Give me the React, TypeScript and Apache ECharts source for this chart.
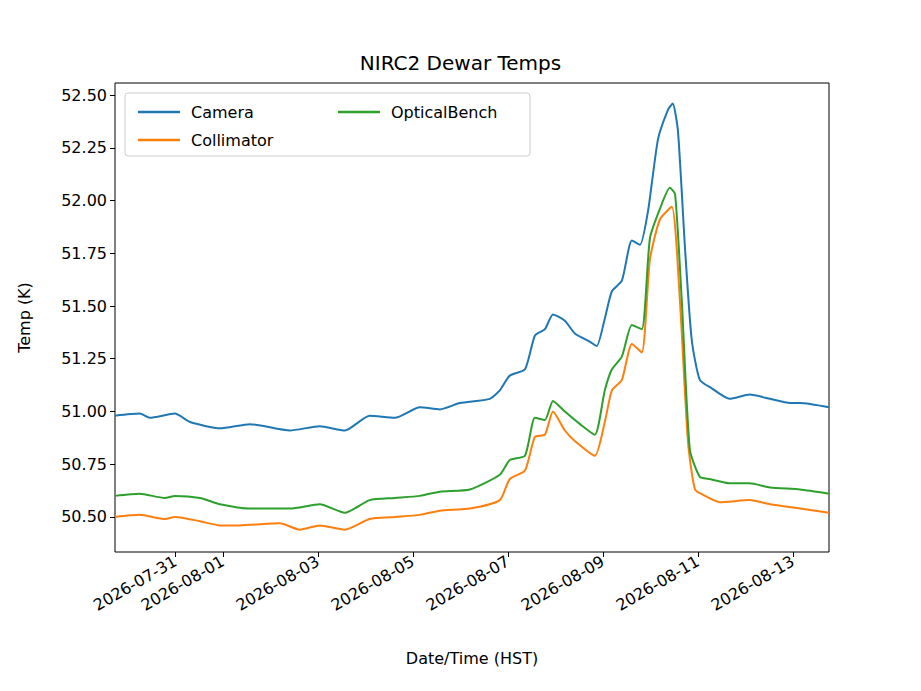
import React, { useEffect, useRef } from "react";
import * as echarts from "echarts";

// x = days since 2026-08-01 00:00 HST
const camera: [number, number][] = [[-2.27,50.98],[-1.75,50.99],[-1.54,50.97],[-1.01,50.99],[-0.69,50.95],[-0.06,50.92],[0.57,50.94],[1.41,50.91],[2.04,50.93],[2.57,50.91],[3.09,50.98],[3.62,50.97],[4.15,51.02],[4.57,51.01],[4.99,51.04],[5.62,51.06],[5.83,51.1],[6.04,51.17],[6.36,51.2],[6.57,51.36],[6.78,51.39],[6.95,51.46],[7.2,51.43],[7.41,51.37],[7.73,51.33],[7.87,51.31],[8.04,51.44],[8.19,51.57],[8.4,51.62],[8.61,51.81],[8.78,51.79],[8.95,51.95],[9.16,52.29],[9.37,52.43],[9.47,52.46],[9.58,52.33],[9.73,51.77],[9.87,51.34],[10.04,51.15],[10.29,51.11],[10.67,51.06],[11.09,51.08],[11.52,51.06],[11.94,51.04],[12.15,51.04],[12.76,51.02]];
const collimator: [number, number][] = [[-2.27,50.5],[-1.75,50.51],[-1.22,50.49],[-1.01,50.5],[-0.48,50.48],[-0.06,50.46],[0.36,50.46],[1.2,50.47],[1.62,50.44],[2.04,50.46],[2.57,50.44],[3.09,50.49],[3.62,50.5],[4.15,50.51],[4.57,50.53],[5.2,50.54],[5.83,50.58],[6.04,50.68],[6.36,50.72],[6.57,50.88],[6.78,50.89],[6.95,51.0],[7.2,50.91],[7.41,50.86],[7.83,50.79],[8.04,50.95],[8.19,51.1],[8.4,51.15],[8.61,51.32],[8.82,51.28],[8.99,51.72],[9.2,51.91],[9.45,51.97],[9.62,51.53],[9.79,50.86],[9.94,50.63],[10.15,50.6],[10.46,50.57],[11.09,50.58],[11.52,50.56],[12.15,50.54],[12.76,50.52]];
const opticalBench: [number, number][] = [[-2.27,50.6],[-1.75,50.61],[-1.22,50.59],[-1.01,50.6],[-0.48,50.59],[-0.06,50.56],[0.57,50.54],[1.41,50.54],[2.04,50.56],[2.57,50.52],[3.09,50.58],[3.62,50.59],[4.15,50.6],[4.57,50.62],[5.2,50.63],[5.83,50.7],[6.04,50.77],[6.36,50.79],[6.57,50.97],[6.78,50.96],[6.95,51.05],[7.2,51.0],[7.52,50.94],[7.83,50.89],[8.04,51.1],[8.19,51.2],[8.4,51.26],[8.61,51.41],[8.82,51.39],[8.99,51.82],[9.2,51.96],[9.41,52.06],[9.52,52.03],[9.66,51.53],[9.83,50.82],[10.04,50.69],[10.25,50.68],[10.67,50.66],[11.09,50.66],[11.52,50.64],[12.15,50.63],[12.76,50.61]];
const xTickDays = [-1, 0, 2, 4, 6, 8, 10, 12];
const xTickLabels = ["2026-07-31","2026-08-01","2026-08-03","2026-08-05","2026-08-07","2026-08-09","2026-08-11","2026-08-13"];
const yTicks = [50.5, 50.75, 51.0, 51.25, 51.5, 51.75, 52.0, 52.25, 52.5];

const FONT = "DejaVu Sans";

export default function App() {
  const ref = useRef<HTMLDivElement>(null);
  useEffect(() => {
    document.body.style.margin = "0";
    const chart = echarts.init(ref.current!, undefined, { renderer: "svg" });
    const mk = (name: string, data: [number, number][], color: string) => ({
      name, type: "line", data, showSymbol: false, smooth: 0.2,
      lineStyle: { color, width: 2 }, itemStyle: { color },
    });
    const legendText = { fontFamily: FONT, fontSize: 16, color: "#000", padding: [0, 0, 0, 6] };
    chart.setOption({
      animation: false,
      backgroundColor: "#fff",
      textStyle: { fontFamily: FONT },
      title: { text: "NIRC2 Dewar Temps", left: "center", top: 48, textStyle: { fontFamily: FONT, fontSize: 20, fontWeight: "normal", color: "#000" } },
      grid: { left: 115, right: 92, top: 83, bottom: 139, show: true, borderColor: "#000", borderWidth: 1 },
      xAxis: {
        type: "value", min: -2.27, max: 12.76,
        name: "Date/Time (HST)", nameLocation: "middle", nameGap: 98,
        nameTextStyle: { fontFamily: FONT, fontSize: 16, color: "#000" },
        axisLine: { show: false, onZero: false }, splitLine: { show: false },
        axisTick: { show: true, length: 5, lineStyle: { color: "#000" }, customValues: xTickDays },
        axisLabel: {
          rotate: 30, fontSize: 16, color: "#000", fontFamily: FONT, margin: 8,
          customValues: xTickDays,
          formatter: (v: number) => xTickLabels[xTickDays.indexOf(Math.round(v))] ?? "",
        },
      },
      yAxis: {
        type: "value", min: 50.334, max: 52.557,
        name: "Temp (K)", nameLocation: "middle", nameGap: 83, nameRotate: 90,
        nameTextStyle: { fontFamily: FONT, fontSize: 16, color: "#000" },
        axisLine: { show: false, onZero: false }, splitLine: { show: false },
        axisTick: { show: true, length: 5, lineStyle: { color: "#000" }, customValues: yTicks },
        axisLabel: { fontSize: 16, color: "#000", fontFamily: FONT, customValues: yTicks, formatter: (v: number) => v.toFixed(2) },
      },
      legend: [
        { data: ["Camera", "Collimator"], orient: "vertical", left: 133, top: 99, itemGap: 12, icon: "rect", itemWidth: 42, itemHeight: 2.5, textStyle: legendText },
        { data: ["OpticalBench"], orient: "vertical", left: 333, top: 99, icon: "rect", itemWidth: 42, itemHeight: 2.5, textStyle: legendText },
      ],
      graphic: [{ type: "rect", shape: { x: 125, y: 93, width: 405, height: 63, r: 3 }, style: { fill: "rgba(255,255,255,0.8)", stroke: "#ccc", lineWidth: 1 }, z: 0 }],
      series: [
        mk("Camera", camera, "#1f77b4"),
        mk("Collimator", collimator, "#ff7f0e"),
        mk("OpticalBench", opticalBench, "#2ca02c"),
      ],
    });
    return () => chart.dispose();
  }, []);
  return <div ref={ref} style={{ width: 921, height: 691 }} />;
}
